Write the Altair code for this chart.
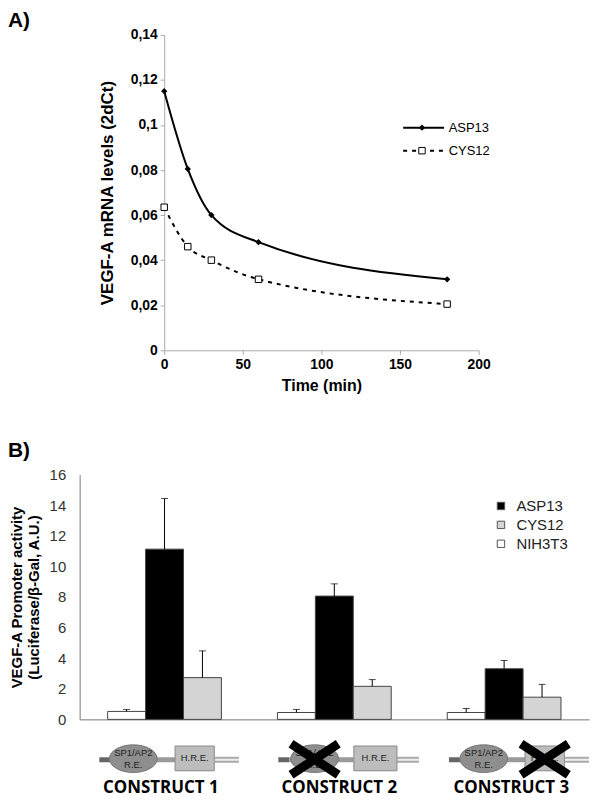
import altair as alt
import pandas as pd

# ---------------- Panel A data ----------------
times = [0, 15, 30, 60, 180]
asp13_mrna = [0.115, 0.0805, 0.060, 0.048, 0.0315]
cys12_mrna = [0.0635, 0.046, 0.040, 0.0315, 0.0205]
a_series = ["ASP13", "CYS12"]
a_y_ticks = [0, 0.02, 0.04, 0.06, 0.08, 0.1, 0.12, 0.14]
a_x_ticks = [0, 50, 100, 150, 200]

# legend entries of panel A (data units of the panel)
a_leg_y = [0.0988, 0.0886]
a_leg_x1 = [152, 152]
a_leg_x2 = [178, 178]
a_leg_mark_x = [164, 164]
a_leg_text_x = [181, 181]

# ---------------- Panel B data ----------------
constructs = ["CONSTRUCT 1", "CONSTRUCT 2", "CONSTRUCT 3"]
strain_order = ["NIH3T3", "ASP13", "CYS12"]
legend_order = ["ASP13", "CYS12", "NIH3T3"]
nih_vals = [0.52, 0.45, 0.45]
nih_err = [0.13, 0.20, 0.26]
asp_vals = [11.13, 8.06, 3.31]
asp_err = [3.31, 0.80, 0.54]
cys_vals = [2.73, 2.16, 1.45]
cys_err = [1.75, 0.44, 0.84]
b_y_ticks = [0, 2, 4, 6, 8, 10, 12, 14, 16]

# construct schematics (x in construct units 0..3, y in activity units below 0)
bb_start = [0.116, 1.170, 2.175]
bb_end = [0.938, 1.998, 3.0]
ell_center = [0.316, 1.384, 2.380]
hre_left = [0.562, 1.615, 2.623]
hre_right = [0.793, 1.869, 2.855]
cross_x = [1.384, 2.739]
label_x = [0.478, 1.529, 2.542]
bb_y = -2.64
ell_y = -2.57
hre_top, hre_bot = -1.74, -3.36
cross_top, cross_bot = -1.60, -3.62
label_y = -4.5

FONT = "Liberation Sans"

# ---------------- Panel A ----------------
a_df = pd.DataFrame({
    "t": times * 2,
    "v": asp13_mrna + cys12_mrna,
    "s": ["ASP13"] * len(times) + ["CYS12"] * len(times),
})
a_leg = pd.DataFrame({"s": a_series, "y": a_leg_y, "x1": a_leg_x1, "x2": a_leg_x2,
                      "mx": a_leg_mark_x, "tx": a_leg_text_x})

xsA = alt.Scale(domain=[0, 200], nice=False)
ysA = alt.Scale(domain=[0, 0.14], nice=False)
axA_x = alt.Axis(values=a_x_ticks, title="Time (min)", grid=False,
                 labelFontWeight="bold", labelFontSize=14, labelColor="#000",
                 titleFontSize=16, titleFontWeight="bold", titleColor="#000",
                 domainColor="#aaa", tickColor="#aaa", tickSize=4, labelPadding=3,
                 titlePadding=6, labelFlush=False)
axA_y = alt.Axis(values=a_y_ticks, title="VEGF-A mRNA levels (2dCt)", grid=False,
                 format="~g", labelExpr="replace(datum.label, '.', ',')",
                 labelFontWeight="bold", labelFontSize=14, labelColor="#000",
                 labelOverlap=False, labelFlush=False,
                 titleFontSize=17, titleFontWeight="bold", titleColor="#000",
                 domainColor="#aaa", tickColor="#aaa", tickSize=4, labelPadding=3,
                 titlePadding=14)
xA = alt.X("t:Q", scale=xsA, axis=axA_x)
yA = alt.Y("v:Q", scale=ysA, axis=axA_y)

asp_line = alt.Chart(a_df).transform_filter("datum.s == 'ASP13'").mark_line(
    color="#000", strokeWidth=2, interpolate="monotone").encode(x=xA, y=yA)
cys_line = alt.Chart(a_df).transform_filter("datum.s == 'CYS12'").mark_line(
    color="#000", strokeWidth=2, strokeDash=[4, 5], interpolate="monotone").encode(x=xA, y=yA)
asp_pts = alt.Chart(a_df).transform_filter("datum.s == 'ASP13'").mark_point(
    shape="diamond", filled=True, color="#000", size=40, opacity=1).encode(x=xA, y=yA)
cys_pts = alt.Chart(a_df).transform_filter("datum.s == 'CYS12'").mark_point(
    shape="square", filled=True, fill="#fff", stroke="#000", strokeWidth=1, size=42,
    opacity=1).encode(x=xA, y=yA)

lx1 = alt.X("x1:Q", scale=xsA, axis=axA_x)
lmx = alt.X("mx:Q", scale=xsA, axis=axA_x)
ltx = alt.X("tx:Q", scale=xsA, axis=axA_x)
ly = alt.Y("y:Q", scale=ysA, axis=axA_y)

leg_base = alt.Chart(a_leg)
leg_asp_rule = leg_base.transform_filter("datum.s == 'ASP13'").mark_rule(
    color="#000", strokeWidth=2).encode(x=lx1, x2="x2:Q", y=ly)
leg_cys_rule = leg_base.transform_filter("datum.s == 'CYS12'").mark_rule(
    color="#000", strokeWidth=2, strokeDash=[4, 5]).encode(x=lx1, x2="x2:Q", y=ly)
leg_asp_pt = leg_base.transform_filter("datum.s == 'ASP13'").mark_point(
    shape="diamond", filled=True, color="#000", size=40, opacity=1).encode(x=lmx, y=ly)
leg_cys_pt = leg_base.transform_filter("datum.s == 'CYS12'").mark_point(
    shape="square", filled=True, fill="#fff", stroke="#000", strokeWidth=1, size=42,
    opacity=1).encode(x=lmx, y=ly)
leg_txt = leg_base.mark_text(align="left", baseline="middle", fontSize=13, font=FONT,
                             color="#000").encode(x=ltx, y=ly, text="s:N")

top = alt.layer(asp_line, cys_line, asp_pts, cys_pts,
                leg_asp_rule, leg_cys_rule, leg_asp_pt, leg_cys_pt, leg_txt).properties(
    width=316, height=317)

spacer = alt.Chart(pd.DataFrame({"z": [0]})).mark_point(opacity=0).encode(
    x=alt.X("z:Q", axis=None), y=alt.Y("z:Q", axis=None)).properties(width=1, height=1)

top_row = alt.hconcat(spacer, top, spacing=14)

# ---------------- Panel B ----------------
rows = []
for i, c in enumerate(constructs):
    rows.append({"c": c, "s": "NIH3T3", "v": nih_vals[i], "hi": nih_vals[i] + nih_err[i]})
    rows.append({"c": c, "s": "ASP13", "v": asp_vals[i], "hi": asp_vals[i] + asp_err[i]})
    rows.append({"c": c, "s": "CYS12", "v": cys_vals[i], "hi": cys_vals[i] + cys_err[i]})
b_df = pd.DataFrame(rows)

yScaleB = alt.Scale(domain=[0, 16], nice=False)
axB_y = alt.Axis(values=b_y_ticks, grid=False, ticks=False, labelOverlap=False,
                 labelFlush=False,
                 title=["VEGF-A Promoter activity", "(Luciferase/β-Gal, A.U.)"],
                 labelFontSize=15, labelColor="#333", labelPadding=14,
                 titleFontSize=15, titleFontWeight="bold", titleColor="#000",
                 titlePadding=8, titleLineHeight=17, domainColor="#777")
xB = alt.X("c:N", sort=constructs,
           scale=alt.Scale(paddingInner=0.33, paddingOuter=0.165),
           axis=alt.Axis(labels=False, ticks=False, title=None, domainColor="#777"))
xoB = alt.XOffset("s:N", sort=strain_order, scale=alt.Scale(paddingInner=0, paddingOuter=0))
yB = alt.Y("v:Q", scale=yScaleB, axis=axB_y)

bars = alt.Chart(b_df).mark_bar(stroke="#444", strokeWidth=1, opacity=1).encode(
    x=xB, xOffset=xoB, y=yB,
    color=alt.Color("s:N", scale=alt.Scale(domain=legend_order,
                                           range=["#000000", "#d4d4d4", "#ffffff"]),
                    legend=alt.Legend(title=None, orient="none", legendX=416, legendY=24,
                                      symbolType="square", symbolSize=55,
                                      symbolStrokeColor="#555", symbolStrokeWidth=1,
                                      labelFontSize=15, labelColor="#222", labelFont=FONT,
                                      rowPadding=3, labelOffset=8)),
)
err = alt.Chart(b_df).mark_rule(color="#000", strokeWidth=1).encode(
    x=xB, xOffset=xoB, y=yB, y2="hi:Q")
caps = alt.Chart(b_df).mark_tick(color="#000", thickness=1, size=7).encode(
    x=xB, xOffset=xoB, y=alt.Y("hi:Q", scale=yScaleB, axis=axB_y))

bar_layer = alt.layer(bars, err, caps)

# schematics
xs = alt.Scale(domain=[0, 3], nice=False)
ys = alt.Scale(domain=[0, 16], nice=False)
seg_rows = []
for i in range(3):
    seg_rows.append({"x1": bb_start[i], "x2": bb_start[i] + 0.065, "part": "dark"})
    seg_rows.append({"x1": bb_start[i] + 0.065, "x2": hre_left[i], "part": "mid"})
    seg_rows.append({"x1": hre_right[i], "x2": bb_end[i], "part": "light"})
seg_df = pd.DataFrame(seg_rows)
seg_df["y"] = bb_y

def seg(part, color, width):
    return alt.Chart(seg_df).transform_filter(f"datum.part == '{part}'").mark_rule(
        color=color, strokeWidth=width).encode(
        x=alt.X("x1:Q", scale=xs, axis=None), x2="x2:Q",
        y=alt.Y("y:Q", scale=ys, axis=None))

seg_dark = seg("dark", "#666", 5)
seg_mid = seg("mid", "#9a9a9a", 5)
seg_light_o = seg("light", "#aaa", 6)
seg_light_i = seg("light", "#f0f0f0", 2)

ell_df = pd.DataFrame({"x": ell_center, "y": [ell_y] * 3})
ellipse = alt.Chart(ell_df).mark_point(
    shape="M-1,0A1,0.58,0,1,1,1,0A1,0.58,0,1,1,-1,0Z", filled=True, fill="#8e8e8e",
    stroke="#777", strokeWidth=1, size=2304, opacity=1).encode(
    x=alt.X("x:Q", scale=xs, axis=None), y=alt.Y("y:Q", scale=ys, axis=None))
ell_txt1 = alt.Chart(ell_df).mark_text(text="SP1/AP2", fontSize=9.5, color="#222", font=FONT,
                                       dy=-6).encode(
    x=alt.X("x:Q", scale=xs, axis=None), y=alt.Y("y:Q", scale=ys, axis=None))
ell_txt2 = alt.Chart(ell_df).mark_text(text="R.E.", fontSize=9.5, color="#222", font=FONT,
                                       dy=6).encode(
    x=alt.X("x:Q", scale=xs, axis=None), y=alt.Y("y:Q", scale=ys, axis=None))

hre_df = pd.DataFrame({"x1": hre_left, "x2": hre_right,
                       "y1": [hre_top] * 3, "y2": [hre_bot] * 3})
hre_df["xc"] = (hre_df["x1"] + hre_df["x2"]) / 2
hre_df["yc"] = (hre_df["y1"] + hre_df["y2"]) / 2
hre = alt.Chart(hre_df).mark_rect(fill="#bdbdbd", stroke="#8a8a8a", strokeWidth=1).encode(
    x=alt.X("x1:Q", scale=xs, axis=None), x2="x2:Q",
    y=alt.Y("y1:Q", scale=ys, axis=None), y2="y2:Q")
hre_txt = alt.Chart(hre_df).mark_text(text="H.R.E.", fontSize=9.5, color="#222",
                                      font=FONT).encode(
    x=alt.X("xc:Q", scale=xs, axis=None), y=alt.Y("yc:Q", scale=ys, axis=None))

cross_rows = []
for cx in cross_x:
    cross_rows.append({"x1": cx - 0.139, "x2": cx + 0.139, "y1": cross_top, "y2": cross_bot})
    cross_rows.append({"x1": cx - 0.139, "x2": cx + 0.139, "y1": cross_bot, "y2": cross_top})
cross_df = pd.DataFrame(cross_rows)
crosses = alt.Chart(cross_df).mark_rule(color="#000", strokeWidth=9).encode(
    x=alt.X("x1:Q", scale=xs, axis=None), x2="x2:Q",
    y=alt.Y("y1:Q", scale=ys, axis=None), y2="y2:Q")

lab_df = pd.DataFrame({"x": label_x, "y": [label_y] * 3, "c": constructs})
labels = alt.Chart(lab_df).mark_text(fontSize=17, fontWeight="bold", font="Open Sans",
                                     color="#000").encode(
    x=alt.X("x:Q", scale=xs, axis=None), y=alt.Y("y:Q", scale=ys, axis=None), text="c:N")

schem = alt.layer(seg_dark, seg_mid, seg_light_o, seg_light_i, ellipse, ell_txt1, ell_txt2,
                  hre, hre_txt, crosses, labels)

bottom = alt.layer(bar_layer, schem).resolve_scale(x="independent").resolve_axis(
    x="independent", y="independent").properties(
    width=512, height=246,
    title=alt.TitleParams("B)", anchor="start", frame="group", dx=-72, fontSize=21,
                          fontWeight="bold", font=FONT, color="#000", offset=7),
)

chart = alt.vconcat(top_row, bottom, spacing=47).resolve_scale(
    color="independent").resolve_legend(color="independent").properties(
    padding=0,
    title=alt.TitleParams("A)", anchor="start", frame="bounds", fontSize=21,
                          fontWeight="bold", font=FONT, color="#000", offset=-3),
).configure(font=FONT).configure_view(stroke=None)

chart.save("out.html", embed_options={"renderer": "svg", "actions": False})
